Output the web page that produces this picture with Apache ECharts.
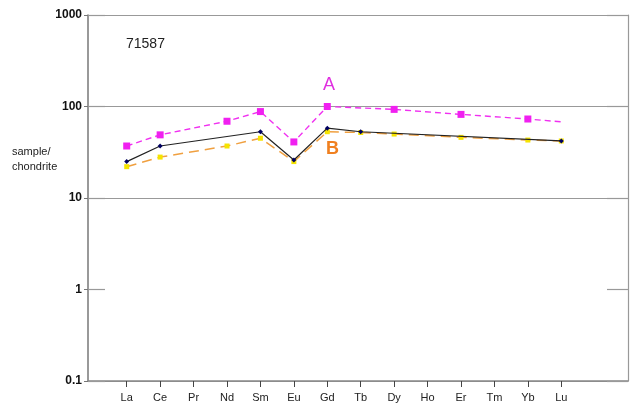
<!DOCTYPE html>
<html>
<head>
<meta charset="utf-8">
<script src="https://cdn.jsdelivr.net/npm/echarts@6/dist/echarts.min.js"></script>
<style>html,body{margin:0;padding:0;background:#fff}#c{width:632px;height:410px}</style>
</head>
<body>
<div id="c"></div>
<script>
const elements = ['La','Ce','Pr','Nd','Sm','Eu','Gd','Tb','Dy','Ho','Er','Tm','Yb','Lu'];
const seriesA = [37, 49, null, 69, 88, 41, 100, null, 93, null, 82, null, 73, 68];
const seriesBlack = [25, 37, null, null, 53, 26, 58, 53, null, null, null, null, null, 42];
const seriesB = [22, 28, null, 37, 45, 25, 53, 52, 50, null, 46, null, 43, 42];
const markerA = [true, true, false, true, true, true, true, false, true, false, true, false, true, false];
const yTicks = [0.1, 1, 10, 100, 1000];

const chart = echarts.init(document.getElementById('c'), null, {renderer: 'canvas'});
const font = 'Liberation Sans, Arial, sans-serif';
chart.setOption({
  animation: false,
  backgroundColor: '#fff',
  grid: [
    {left: 88, right: 4, top: 15, bottom: 29},
    {left: 110, right: 54, top: 15, bottom: 29}
  ],
  xAxis: [
    {gridIndex: 0, type: 'value', min: 0, max: 1,
     axisLine: {show: true, lineStyle: {color: '#888', width: 1.5}},
     axisTick: {show: false}, axisLabel: {show: false}, splitLine: {show: false}},
    {gridIndex: 1, type: 'category', data: elements, boundaryGap: true,
     axisLine: {show: false},
     axisTick: {show: true, alignWithLabel: true, length: 6, lineStyle: {color: '#444'}},
     axisLabel: {fontFamily: font, fontSize: 11, color: '#222', margin: 11},
     splitLine: {show: false}}
  ],
  yAxis: [
    {gridIndex: 0, type: 'log', logBase: 10, min: yTicks[0], max: yTicks[yTicks.length - 1], position: 'left',
     axisLine: {show: true, lineStyle: {color: '#777', width: 1.5}},
     axisTick: {show: true, length: 4, lineStyle: {color: '#777'}},
     axisLabel: {fontFamily: font, fontSize: 12, fontWeight: 'bold', color: '#111', margin: 6,
                 formatter: v => String(v)},
     splitLine: {show: true, lineStyle: {color: ['#999', 'rgba(0,0,0,0)', '#999', '#999', '#999'], width: 1.2}}},
    {gridIndex: 0, type: 'log', logBase: 10, min: yTicks[0], max: yTicks[yTicks.length - 1], position: 'right',
     axisLine: {show: true, lineStyle: {color: '#999', width: 1.2}},
     axisTick: {show: true, inside: true, length: 21, lineStyle: {color: '#999', width: 1.2}},
     axisLabel: {show: false}, splitLine: {show: false}},
    {gridIndex: 0, type: 'log', logBase: 10, min: yTicks[0], max: yTicks[yTicks.length - 1], position: 'left',
     axisLine: {show: false},
     axisTick: {show: true, inside: true, length: 17, lineStyle: {color: '#999', width: 1.2}},
     axisLabel: {show: false}, splitLine: {show: false}},
    {gridIndex: 1, type: 'log', logBase: 10, min: yTicks[0], max: yTicks[yTicks.length - 1], show: false}
  ],
  series: [
    {type: 'line', xAxisIndex: 1, yAxisIndex: 3, connectNulls: true, z: 3,
     data: seriesB,
     lineStyle: {color: '#f0a040', width: 1.5, type: [10, 6]},
     symbol: 'rect', symbolSize: 5, itemStyle: {color: '#f5e400'}},
    {type: 'line', xAxisIndex: 1, yAxisIndex: 3, connectNulls: true, z: 4,
     data: seriesBlack,
     lineStyle: {color: '#222', width: 1.2},
     symbol: 'diamond', symbolSize: 5, itemStyle: {color: '#000060'}},
    {type: 'line', xAxisIndex: 1, yAxisIndex: 3, connectNulls: true, z: 5,
     data: seriesA.map((v, i) => ({value: v, symbolSize: markerA[i] ? 7 : 0})),
     lineStyle: {color: '#f030f0', width: 1.4, type: [6, 4]},
     symbol: 'rect', itemStyle: {color: '#f020f0'}}
  ],
  graphic: [
    {type: 'text', left: 126, top: 37, style: {text: '71587', font: '14px ' + font, fill: '#222'}},
    {type: 'text', left: 323, top: 76, style: {text: 'A', font: '18px ' + font, fill: '#e030e0'}},
    {type: 'text', left: 326, top: 140, style: {text: 'B', font: 'bold 18px ' + font, fill: '#f08020'}},
    {type: 'text', left: 12, top: 144, style: {text: 'sample/\nchondrite', font: '11px ' + font, fill: '#222', lineHeight: 15}}
  ]
});
</script>
</body>
</html>
